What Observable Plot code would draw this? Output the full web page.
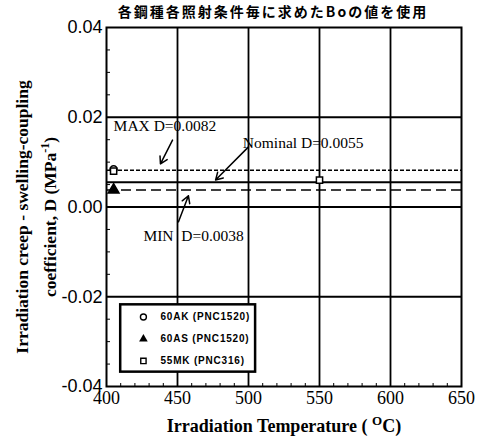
<!DOCTYPE html>
<html><head><meta charset="utf-8">
<script src="https://cdn.jsdelivr.net/npm/d3@7"></script>
<script src="https://cdn.jsdelivr.net/npm/@observablehq/plot@0.6"></script>
<style>body{margin:0;background:#fff}</style>
</head><body><div id="chart"></div>
<script>
const titleText = "各鋼種各照射条件毎に求めたBoの値を使用";
const xLabel = "Irradiation Temperature ( OC)";
const yLabel1 = "Irradiation creep - swelling-coupling";
const yLabel2 = "coefficient, D (MPa-1)";
const xTicks = [400, 450, 500, 550, 600, 650];
const yTicks = [-0.04, -0.02, 0, 0.02, 0.04];
const xGrid = [450, 500, 550, 600];
const yGrid = [-0.02, 0, 0.02];
const yMinor = [-0.035, -0.03, -0.025, -0.015, -0.01, -0.005, 0.005, 0.01, 0.015, 0.025, 0.03, 0.035];
const xMinor = [410, 420, 430, 440, 460, 470, 480, 490, 510, 520, 530, 540, 560, 570, 580, 590, 610, 620, 630, 640];

const refNames = ["MAX", "Nominal", "MIN"];
const refValues = [0.0082, 0.0055, 0.0038];
const refDash = ["4,2", null, "10,5"];
const refLabels = ["MAX D=0.0082", "Nominal D=0.0055", "MIN  D=0.0038"];
const refLabelX = [405, 496, 426];
const refLabelY = [0.0180, 0.0143, -0.0065];
const arrowX1 = [446.5, 500, 450.7];
const arrowY1 = [0.0149, 0.0134, -0.0033];
const arrowX2 = [438, 476.8, 457.7];
const arrowY2 = [0.0096, 0.0060, 0.0025];

const steels = ["60AK (PNC1520)", "60AS (PNC1520)", "55MK (PNC316)"];
const steelSymbols = ["circle", "triangle", "square"];
const steelFilled = [false, true, false];
const pointSteel = ["60AK (PNC1520)", "55MK (PNC316)", "60AS (PNC1520)", "55MK (PNC316)"];
const pointTemp = [405, 405, 405, 550];
const pointD = [0.0084, 0.0080, 0.0038, 0.0060];

// legend box (data units)
const legendBox = [{x1: 410, x2: 505, y1: -0.0218, y2: -0.0368}];
const legendRowY = [-0.0245, -0.0294, -0.0343];
const legendSymX = 426;
const legendTextX = 438;

const refs = refNames.map((n, i) => ({name: n, value: refValues[i], dash: refDash[i], label: refLabels[i], lx: refLabelX[i], ly: refLabelY[i], x1: arrowX1[i], y1: arrowY1[i], x2: arrowX2[i], y2: arrowY2[i]}));
const points = pointSteel.map((s, i) => ({steel: s, T: pointTemp[i], D: pointD[i], filled: steelFilled[steels.indexOf(s)]}));
const legend = steels.map((s, i) => ({steel: s, y: legendRowY[i], filled: steelFilled[i]}));

const serif = "'Liberation Serif', 'Times New Roman', serif";
const sans = "'Liberation Sans', Arial, sans-serif";

const plot = Plot.plot({
  width: 481, height: 444,
  marginLeft: 106, marginRight: 20, marginTop: 27, marginBottom: 58,
  style: {background: "#fff", color: "#000", fontFamily: serif},
  x: {domain: [400, 650]},
  y: {domain: [-0.04, 0.04]},
  symbol: {domain: steels, range: steelSymbols},
  marks: [
    Plot.ruleX(xGrid, {stroke: "#000", strokeWidth: 1.8}),
    Plot.ruleY(yGrid, {stroke: "#000", strokeWidth: 1.8}),
    ...refs.map(r => Plot.ruleY([r.value], {stroke: "#000", strokeWidth: r.dash ? 1.6 : 2, strokeDasharray: r.dash})),
    Plot.arrow(refs, {x1: "x1", y1: "y1", x2: "x2", y2: "y2", stroke: "#000", strokeWidth: 1.5, headLength: 8, bend: 0}),
    Plot.text(refs, {x: "lx", y: "ly", text: "label", textAnchor: "start", fontSize: 15.5, fontFamily: serif, fill: "#000"}),
    Plot.dot(points.filter(d => !d.filled), {x: "T", y: "D", symbol: "steel", r: 3.5, stroke: "#000", strokeWidth: 1.5, fill: "#fff"}),
    Plot.dot(points.filter(d => d.filled), {x: "T", y: "D", symbol: "steel", r: 4, fill: "#000", stroke: "#000"}),
    Plot.rect(legendBox, {x1: "x1", x2: "x2", y1: "y1", y2: "y2", fill: "#fff", stroke: "#000", strokeWidth: 2.5}),
    Plot.dot(legend.filter(d => !d.filled), {x: () => legendSymX, y: "y", symbol: "steel", r: 3, stroke: "#000", strokeWidth: 1.4, fill: "#fff"}),
    Plot.dot(legend.filter(d => d.filled), {x: () => legendSymX, y: "y", symbol: "steel", r: 3.2, fill: "#000"}),
    Plot.text(legend, {x: () => legendTextX, y: "y", text: "steel", textAnchor: "start", fontSize: 10, fontWeight: "bold", fontFamily: sans, fill: "#000"}),
    Plot.axisY(yTicks, {tickSize: 0, tickPadding: 4, tickFormat: d => d.toFixed(2), fontSize: 18, label: null}),
    Plot.axisX(xTicks, {tickSize: 0, tickPadding: 5, fontSize: 18, label: null}),
    Plot.axisY(yMinor, {tickSize: -4, tickFormat: () => "", label: null}),
    Plot.axisX(xMinor, {tickSize: -3, tickFormat: () => "", label: null}),
    Plot.frame({stroke: "#000", strokeWidth: 2}),
    Plot.text([titleText], {frameAnchor: "top", lineAnchor: "middle", textAnchor: "middle", dy: -15, dx: -11, fontSize: 14, fontWeight: "bold", fontFamily: "'Noto Sans CJK JP', sans-serif", fill: "#000"}),
    Plot.text([xLabel], {frameAnchor: "bottom", lineAnchor: "middle", textAnchor: "middle", dy: 40, fontSize: 18, fontWeight: "bold", fontFamily: serif, fill: "#000"}),
    Plot.text([yLabel1], {frameAnchor: "left", lineAnchor: "middle", textAnchor: "middle", dx: -84, dy: 10, rotate: -90, fontSize: 17.5, fontWeight: "bold", fontFamily: serif, fill: "#000"}),
    Plot.text([yLabel2], {frameAnchor: "left", lineAnchor: "middle", textAnchor: "middle", dx: -56, dy: 10, rotate: -90, fontSize: 17.5, fontWeight: "bold", fontFamily: serif, fill: "#000"})
  ]
});
document.getElementById("chart").appendChild(plot);

// fonts for tick labels
plot.querySelectorAll("text").forEach(t => {
  const txt = t.textContent;
  if (xTicks.map(String).includes(txt)) t.setAttribute("font-family", serif);
  if (yTicks.map(d => d.toFixed(2)).includes(txt)) t.setAttribute("font-family", sans);
  if (steels.includes(txt)) t.setAttribute("letter-spacing", "0.8");
});
// superscripts
plot.querySelectorAll("text").forEach(t => {
  if (t.textContent === yLabel2) {
    t.innerHTML = 'coefficient, D (MPa<tspan dy="-7" font-size="12">-1</tspan><tspan dy="7">)</tspan>';
  } else if (t.textContent === xLabel) {
    t.innerHTML = 'Irradiation Temperature ( <tspan dy="-7" font-size="13">O</tspan><tspan dy="7">C)</tspan>';
  } else if (t.textContent === titleText) {
    t.setAttribute("letter-spacing", "2");
  }
});
</script>
</body></html>
